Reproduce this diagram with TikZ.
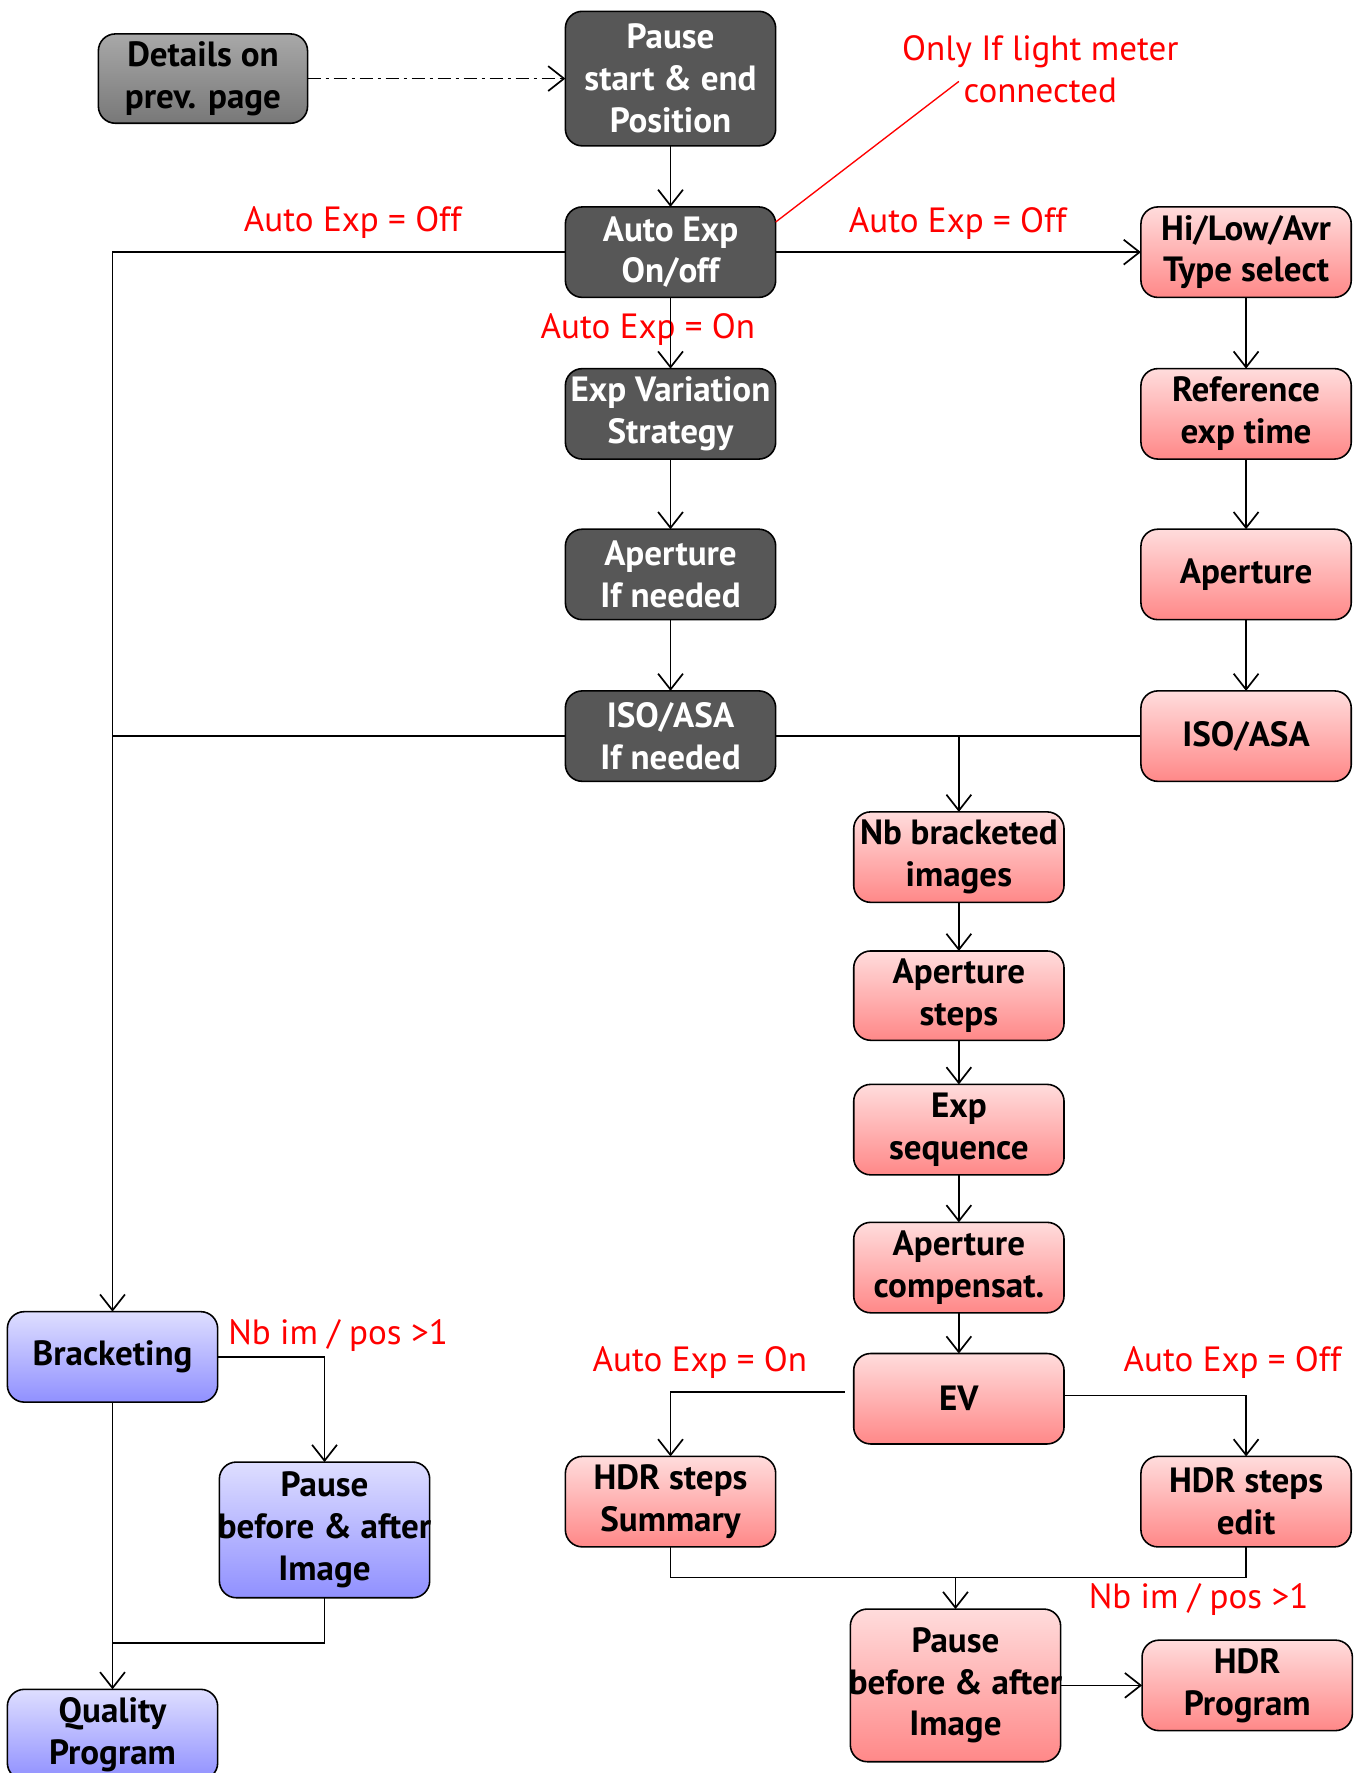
\documentclass[tikz,border=0pt]{standalone}
\usepackage{fontspec}
\setmainfont{PT Sans}
\usetikzlibrary{arrows.meta,positioning}
\definecolor{boxdark}{HTML}{575757}
\definecolor{pinktop}{HTML}{FFDCDC}
\definecolor{pinkbot}{HTML}{FF8888}
\definecolor{bluetop}{HTML}{DEDEFF}
\definecolor{bluebot}{HTML}{9090FF}
\definecolor{greytop}{HTML}{A8A8A8}
\definecolor{greybot}{HTML}{787878}
\begin{document}
\begin{tikzpicture}[x=0.5pt,y=-0.5pt,
 node distance=31.5pt,
 box/.style={draw=black,rounded corners=7.5pt,minimum width=93pt,minimum height=40pt,outer sep=0pt,
 align=center,inner sep=1pt,line width=0.7pt,font=\fontsize{15.5}{18.5}\selectfont\bfseries},
 darkbox/.style={box,fill=boxdark,text=white},
 pinkbox/.style={box,top color=pinktop,bottom color=pinkbot},
 bluebox/.style={box,top color=bluetop,bottom color=bluebot},
 greybox/.style={box,top color=greytop,bottom color=greybot},
 cond/.style={text=red,inner sep=0pt,font=\fontsize{15.5}{18.5}\selectfont},
 conn/.style={line width=0.75pt},
 arr/.style={conn,-{Straight Barb[length=7pt,width=11pt]}}]
\useasboundingbox (0,0) rectangle (1202,1568);
% middle column
\node[darkbox,minimum height=59.5pt] (pause) at (593,69.5) {Pause\\start \& end\\Position};
\node[greybox,minimum width=92.5pt,minimum height=39.5pt,left=114pt of pause] (details) {Details on\\prev. page};
\node[darkbox,below=27pt of pause] (auto) {Auto Exp\\On/off};
\node[darkbox,below=of auto] (expvar) {Exp Variation\\Strategy};
\node[darkbox,below=31pt of expvar] (aperA) {Aperture\\If needed};
\node[darkbox,below=of aperA] (isoA) {ISO/ASA\\If needed};
% right column
\node[pinkbox,right=161.5pt of auto] (hilo) {Hi/Low/Avr\\Type select};
\node[pinkbox,below=of hilo] (refexp) {Reference\\exp time};
\node[pinkbox,below=31pt of refexp] (aperB) {Aperture};
\node[pinkbox,below=of aperB] (isoB) {ISO/ASA};
% bracketed images
\node[pinkbox] (nb) at (848,758) {Nb bracketed\\images};
\node[pinkbox,minimum height=39.5pt,below=21.5pt of nb] (apsteps) {Aperture\\steps};
\node[pinkbox,below=19.5pt of apsteps] (expseq) {Exp\\sequence};
\node[pinkbox,below=21pt of expseq] (apcomp) {Aperture\\compensat.};
\node[pinkbox,below=18pt of apcomp] (ev) {EV};
\node[pinkbox] (hdrsum) at (593,1328) {HDR steps\\Summary};
\node[pinkbox,right=161.5pt of hdrsum] (hdredit) {HDR steps\\edit};
\node[pinkbox,minimum height=67.5pt] (pauseR) at (845,1490.5) {Pause\\\makebox[88pt]{before \& after}\\Image};
\node[pinkbox,right=36pt of pauseR] (hdrprog) {HDR\\Program};
% left column
\node[bluebox] (brack) at (99.5,1200) {Bracketing};
\node[bluebox,minimum height=60pt] (pauseB) at (287,1353) {Pause\\\makebox[88pt]{before \& after}\\Image};
\node[bluebox,below=127pt of brack] (quality) {Quality\\Program};
% conditions
\node[cond] (offL) at (312,197) {Auto Exp = Off};
\node[cond] (offR) at (847,198) {Auto Exp = Off};
\node[cond] (onA) at (573,291) {Auto Exp = On};
\node[cond,align=center] (meter) at (920,61) {Only If light meter\\connected};
\node[cond] (onB) at (619,1205) {Auto Exp = On};
\node[cond] (offB) at (1090,1205) {Auto Exp = Off};
\node[cond] (multR) at (1060,1415) {Nb im / pos >1};
\node[cond] (multL) at (299,1181) {Nb im / pos >1};
\coordinate (mtip) at (848,72);
\coordinate[above=14pt of pauseR.north] (joinR);
\coordinate[below=20pt of pauseB.south] (joinB);
% connectors
\draw[arr,dash pattern=on 6pt off 2pt on 1.5pt off 2pt] (details) -- (pause);
\foreach \a/\b in {pause/auto,auto/expvar,expvar/aperA,aperA/isoA,hilo/refexp,refexp/aperB,aperB/isoB,
 nb/apsteps,apsteps/expseq,expseq/apcomp,apcomp/ev,auto/hilo,pauseR/hdrprog,brack/quality}
 \draw[arr] (\a)--(\b);
\draw[red,line width=0.6pt] (auto.16) -- (mtip);
\draw[arr] (auto.west) -| (brack.north);
\draw[conn] (isoA.west) -- (isoA.west -| brack.north);
\draw[conn] (isoA) -- (isoB);
\draw[arr] (nb.north |- isoA) -- (nb);
\draw[arr] ([xshift=-4pt,yshift=3pt]ev.west) -| (hdrsum.north);
\draw[arr] ([yshift=1.5pt]ev.east) -| (hdredit.north);
\draw[conn] (hdrsum.south) |- (joinR) -| (hdredit.south);
\draw[arr] (joinR) -- (pauseR);
\draw[arr] (brack.east) -| (pauseB.north);
\draw[conn] (pauseB.south) -- (joinB) -- (joinB -| brack.south);
\end{tikzpicture}
\end{document}
